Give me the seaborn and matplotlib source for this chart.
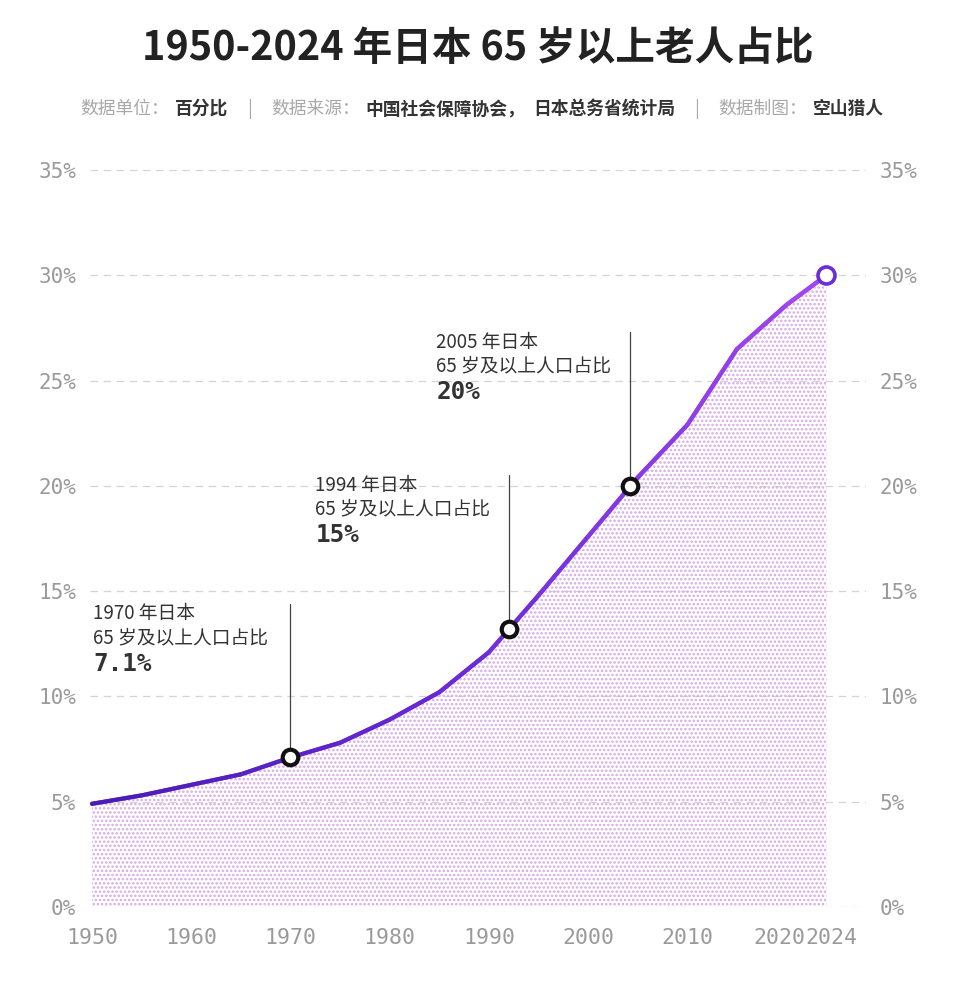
import numpy as np
import matplotlib
matplotlib.use("Agg")
import matplotlib.pyplot as plt
import matplotlib.transforms as mtransforms
from matplotlib.collections import LineCollection
from matplotlib.colors import LinearSegmentedColormap
import seaborn as sns

# --- data ---
years = [1950, 1955, 1960, 1965, 1970, 1975, 1980, 1985, 1990, 1995,
         2000, 2005, 2010, 2015, 2020, 2024]
share = [4.9, 5.3, 5.8, 6.3, 7.1, 7.8, 8.9, 10.2, 12.1, 14.8,
         17.6, 20.4, 22.9, 26.5, 28.6, 30.0]

ann_years = ["1970", "1994", "2005"]
ann_values = ["7.1%", "15%", "20%"]
marker_x = [1970, 1992, 2004.2]
marker_y = [7.1, 13.2, 20.0]

yticks = [0, 5, 10, 15, 20, 25, 30, 35]
xticks = [1950, 1960, 1970, 1980, 1990, 2000, 2010, 2020, 2024]

title = "1950-2024 年日本 65 岁以上老人占比"
sub_parts = [("数据单位：", False), ("百分比", True), ("|", False),
             ("数据来源：", False), ("中国社会保障协会，", True),
             ("日本总务省统计局", True), ("|", False),
             ("数据制图：", False), ("空山猎人", True)]

# --- style ---
sns.set_theme(style="white")
plt.rcParams["font.family"] = ["Noto Sans CJK SC", "DejaVu Sans"]
plt.rcParams["hatch.linewidth"] = 1.2

GREY = "#9a9a9a"
MONO = ["DejaVu Sans Mono"]

fig = plt.figure(figsize=(9.6, 10), dpi=100)
ax = fig.add_axes([90 / 960, 1 - 907 / 1000, 776 / 960, 737 / 1000])
ax.set_xlim(1949.8, 2028.0)
ax.set_ylim(0, 35)

# dotted area under the curve
ax.fill_between(years, share, 0, facecolor="none", edgecolor="#d6a8e6",
                hatch="....", linewidth=0, zorder=1)

# gradient line
pts = np.column_stack([years, share])
segs = np.stack([pts[:-1], pts[1:]], axis=1)
cmap = LinearSegmentedColormap.from_list("pv", ["#4a1db5", "#6a2ad8", "#a446f0"])
lc = LineCollection(segs, colors=cmap(np.linspace(0, 1, len(segs))),
                    linewidth=3.0, capstyle="round", joinstyle="round", zorder=3)
sns.lineplot(x=years, y=share, ax=ax, color="#7a33e0", linewidth=3.0, zorder=2)
ax.add_collection(lc)

# annotations
text_x = [1950.1, 1972.5, 1984.7]
line_top = [14.4, 20.5, 27.3]


def shifted(dy):
    return mtransforms.offset_copy(ax.transData, fig=fig, x=0, y=dy, units="dots")


for i in range(len(ann_years)):
    ax.plot([marker_x[i], marker_x[i]], [marker_y[i], line_top[i]],
            color="#444444", lw=0.9, zorder=2)
    ax.text(text_x[i], line_top[i], f"{ann_years[i]} 年日本", fontsize=13.5,
            color="#333333", va="center", ha="left", transform=shifted(-10))
    ax.text(text_x[i], line_top[i], "65 岁及以上人口占比", fontsize=13.5,
            color="#333333", va="center", ha="left", transform=shifted(-34))
    ax.text(text_x[i], line_top[i], ann_values[i], fontsize=17.5, fontweight="bold",
            family=MONO, color="#333333", va="center", ha="left", transform=shifted(-60))

sns.scatterplot(x=marker_x, y=marker_y, ax=ax, s=125, facecolor="white",
                edgecolor="#111111", linewidth=3.0, zorder=5)
sns.scatterplot(x=[years[-1]], y=[share[-1]], ax=ax, s=150, facecolor="white",
                edgecolor="#6a2ed8", linewidth=2.6, zorder=5)

# axes cosmetics
sns.despine(ax=ax, left=True, bottom=True)
ax.set_yticks(yticks)
ax.set_yticklabels([f"{v}%" for v in yticks], family=MONO, fontsize=15, color=GREY)
ax.yaxis.grid(True, linestyle=(0, (6, 4.5)), color="#d4d4d4", linewidth=0.9)
ax.xaxis.grid(False)
ax.tick_params(axis="y", length=0, pad=10, labelright=True)
ax.set_xticks(xticks)
ax.set_xticklabels([str(v) for v in xticks], family=MONO, fontsize=15.5, color=GREY)
ax.tick_params(axis="x", length=0, pad=15)
for t in ax.yaxis.get_major_ticks():
    t.label2.set_fontfamily(MONO)
    t.label2.set_fontsize(15)
    t.label2.set_color(GREY)
xl = ax.get_xticklabels()
xl[-2].set_transform(xl[-2].get_transform() + mtransforms.ScaledTranslation(-7 / 100, 0, fig.dpi_scale_trans))
xl[-1].set_transform(xl[-1].get_transform() + mtransforms.ScaledTranslation(5 / 100, 0, fig.dpi_scale_trans))
ax.set_xlabel("")
ax.set_ylabel("")

# title and subtitle
fig.text(0.498, 0.952, title, ha="center", va="center", fontsize=28.5,
         fontweight="bold", color="#222222")

prev = fig.text(80 / 960, 0.891, sub_parts[0][0], ha="left", va="center",
                fontsize=12.8, color="#a8a8a8")
for txt, bold in sub_parts[1:]:
    gap = 19 if txt == "|" else (19 if prev.get_text() == "|" else 6)
    if bold and prev.get_text().endswith("，"):
        gap = 8
    prev = ax.annotate(txt, xy=(1, 0.5), xycoords=prev, xytext=(gap, 0),
                       textcoords="offset pixels", ha="left", va="center",
                       fontsize=12.8, annotation_clip=False,
                       fontweight="bold" if bold else "normal",
                       color="#333333" if bold else "#a8a8a8")

fig.savefig("out.png", dpi=100)
